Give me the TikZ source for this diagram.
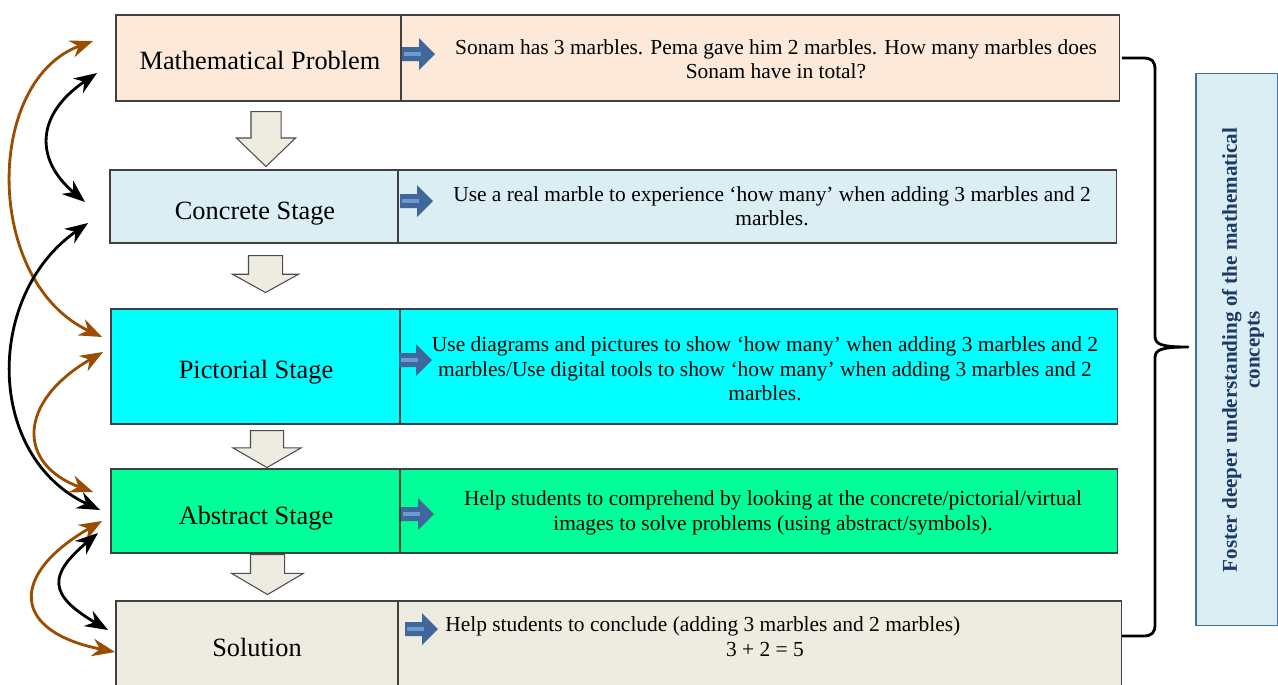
\documentclass[tikz,border=0pt]{standalone}
\usepackage{fontspec}
\setmainfont{Liberation Serif}
\usetikzlibrary{arrows.meta,positioning,shapes.arrows,calc}

\definecolor{probfill}{HTML}{FDE9D9}
\definecolor{concfill}{HTML}{DAEEF3}
\definecolor{pictfill}{HTML}{00FFFF}
\definecolor{abstfill}{HTML}{00FF99}
\definecolor{solfill}{HTML}{EEECE1}
\definecolor{brownline}{HTML}{9A4D00}
\definecolor{ptrdark}{HTML}{3F679B}
\definecolor{ptrlight}{HTML}{6E9AD2}
\definecolor{goalline}{HTML}{41719C}
\definecolor{goaltext}{HTML}{1F3864}

\tikzset{
  stage/.style={draw=black!75, line width=0.7pt, inner sep=0pt, outer sep=0pt},
  descbox/.style={stage, right=0pt of #1},
  stagename/.style={inner sep=0pt, font=\fontsize{15}{18}\selectfont},
  desc/.style={align=center, inner sep=0pt, font=\fontsize{12.2}{13.9}\selectfont},
  stepdown/.style={single arrow, rotate=-90, anchor=tail, draw=black!70, fill=solfill,
    line width=0.6pt, inner xsep=0pt, minimum width=0pt, minimum height=#1},
  revisit/.style={line width=1.6pt,
    {Stealth[length=13pt,width=10pt]}-{Stealth[length=13pt,width=10pt]}},
  pics/pointer/.style={code={
    \fill[ptrdark] (0,-7) -- (17,-7) -- (17,-16) -- (33,0) -- (17,16) -- (17,7) -- (0,7) -- cycle;
    \draw[ptrlight, line width=2pt] (2,0) -- (19,0);
  }},
}

\begin{document}
\begin{tikzpicture}[x=0.02cm, y=-0.02cm]
  \clip (0,0) rectangle (1278,684);

  % left column: the five stages
  \node[stage, fill=probfill, minimum width=5.70cm, minimum height=1.72cm] (prob) at (258.5,58) {};
  \node[stage, fill=concfill, minimum width=5.76cm, minimum height=1.46cm] (conc) at (254,206.5) {};
  \node[stage, fill=pictfill, minimum width=5.78cm, minimum height=2.30cm] (pict) at (255.5,366.5) {};
  \node[stage, fill=abstfill, minimum width=5.78cm, minimum height=1.68cm] (abst) at (255.5,511) {};
  \node[stage, fill=solfill, minimum width=5.64cm, minimum height=1.84cm] (sol) at (257,647) {};

  \node[stagename] (probl) at (260,60) {Mathematical Problem};
  \node[stagename] (concl) at (255,214) {Concrete Stage};
  \node[stagename] (pictl) at (256,372) {Pictorial Stage};
  \node[stagename] (abstl) at (256,518) {Abstract Stage};
  \node[stagename] (soll) at (257,647) {Solution};

  % right column: what happens in each stage
  \node[descbox=prob, fill=probfill, minimum width=14.38cm, minimum height=1.72cm] (probd) {};
  \node[descbox=conc, fill=concfill, minimum width=14.38cm, minimum height=1.46cm] (concd) {};
  \node[descbox=pict, fill=pictfill, minimum width=14.36cm, minimum height=2.30cm] (pictd) {};
  \node[descbox=abst, fill=abstfill, minimum width=14.36cm, minimum height=1.68cm] (abstd) {};
  \node[descbox=sol, fill=solfill, minimum width=14.48cm, minimum height=1.84cm] (sold) {};

  \pic at (402,54) {pointer};
  \pic at (400,201) {pointer};
  \pic at (399,360) {pointer};
  \pic at (401,514) {pointer};
  \pic at (405,629) {pointer};

  \node[desc] (probt) at (776,59) {Sonam has 3 marbles. Pema gave him 2 marbles. How many marbles does\\Sonam have in total?};
  \node[desc] (conct) at (772,206) {Use a real marble to experience ‘how many’ when adding 3 marbles and 2\\marbles.};
  \node[desc] (pictt) at (765,369) {Use diagrams and pictures to show ‘how many’ when adding 3 marbles and 2\\marbles/Use digital tools to show ‘how many’ when adding 3 marbles and 2\\marbles.};
  \node[desc] (abstt) at (773,513) {Help students to comprehend by looking at the concrete/pictorial/virtual\\images to solve problems (using abstract/symbols).};
  \node[desc, anchor=west] (solt) at (445,626) {Help students to conclude (adding 3 marbles and 2 marbles)};
  \node[desc] (sole) at (765,649) {3 + 2 = 5};

  % block arrows between the stages
  \node[stepdown=1.10cm, inner ysep=0.29cm, single arrow head extend=0.29cm, single arrow tip angle=92] (d1) at (266,111) {};
  \node[stepdown=0.74cm, inner ysep=0.33cm, single arrow head extend=0.32cm, single arrow tip angle=122] (d2) at (265.5,255) {};
  \node[stepdown=0.74cm, inner ysep=0.32cm, single arrow head extend=0.35cm, single arrow tip angle=120] (d3) at (267,430) {};
  \node[stepdown=0.80cm, inner ysep=0.33cm, single arrow head extend=0.38cm, single arrow tip angle=119] (d4) at (267.5,554) {};

  % going back and forth between stages
  \draw[revisit, brownline] ($(prob.west)+(-23,-17)$) .. controls +(-109,40) and +(-118,-55) .. ($(pict.west)+(-9,-29.5)$);
  \draw[revisit] ($(prob.west)+(-19,15)$) .. controls +(-62,42) and +(-50,-42) .. ($(conc.west)+(-25,-4.5)$);
  \draw[revisit] ($(conc.west)+(-22,16.5)$) .. controls +(-103,72) and +(-115,-54) .. ($(abst.west)+(-11,-1)$);
  \draw[revisit, brownline] ($(pict.west)+(-8,-14.5)$) .. controls +(-86,50) and +(-76,-28) .. ($(abst.west)+(-18,-19)$);
  \draw[revisit, brownline] ($(abst.west)+(-9,10)$) .. controls +(-92,53) and +(-105,-21) .. ($(sol.west)+(-1,5)$);
  \draw[revisit] ($(abst.west)+(-13,22)$) .. controls +(-50,42) and +(-60,-35) .. ($(sol.west)+(-8,-17)$);

  % brace and the overall aim
  \draw[line width=1.6pt, line join=round]
    (1122,58) -- (1143,58) .. controls (1152,58) and (1155,61) .. (1155,70)
    -- (1155,336) .. controls (1155,344) and (1160,347) .. (1188,347)
    .. controls (1160,347) and (1155,350) .. (1155,358)
    -- (1155,624) .. controls (1155,633) and (1152,636) .. (1143,636) -- (1122,636);
  \node[draw=goalline, fill=concfill, line width=0.6pt, minimum width=1.64cm,
    minimum height=11.06cm] (goal) at (1237,349.5) {};
  \node[rotate=90, align=center, inner sep=0pt, text=goaltext,
    font=\fontsize{12}{13}\selectfont\bfseries] (goalt) at (1243,350)
    {Foster deeper understanding of the mathematical\\concepts};
\end{tikzpicture}
\end{document}
